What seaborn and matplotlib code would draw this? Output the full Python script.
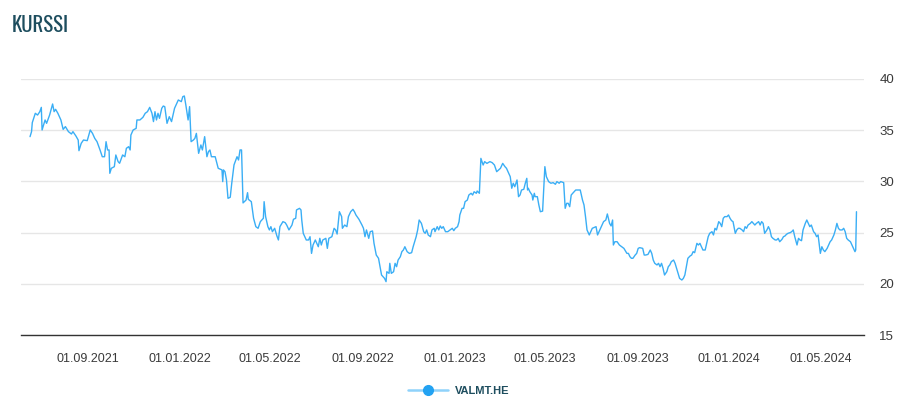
import matplotlib
matplotlib.use("Agg")
import matplotlib.pyplot as plt
import matplotlib.dates as mdates
from matplotlib.lines import Line2D
from matplotlib import font_manager
import seaborn as sns
import pandas as pd

title = "KURSSI"
series_name = "VALMT.HE"

dates = [
    "2021-06-16", "2021-06-18", "2021-06-19", "2021-06-23", "2021-06-26", "2021-06-29", "2021-07-01", "2021-07-02",
    "2021-07-06", "2021-07-08", "2021-07-12", "2021-07-16", "2021-07-18", "2021-07-20", "2021-07-23", "2021-07-27",
    "2021-07-30", "2021-08-02", "2021-08-06", "2021-08-10", "2021-08-12", "2021-08-16", "2021-08-19", "2021-08-20",
    "2021-08-23", "2021-08-26", "2021-08-31", "2021-09-04", "2021-09-07", "2021-09-10", "2021-09-13", "2021-09-17",
    "2021-09-20", "2021-09-23", "2021-09-25", "2021-09-27", "2021-09-29", "2021-09-30", "2021-10-02", "2021-10-06",
    "2021-10-08", "2021-10-11", "2021-10-13", "2021-10-17", "2021-10-20", "2021-10-22", "2021-10-25", "2021-10-27",
    "2021-10-28", "2021-10-31", "2021-11-04", "2021-11-05", "2021-11-09", "2021-11-13", "2021-11-16", "2021-11-19",
    "2021-11-22", "2021-11-25", "2021-11-27", "2021-11-29", "2021-12-01", "2021-12-03", "2021-12-05", "2021-12-08",
    "2021-12-10", "2021-12-12", "2021-12-15", "2021-12-18", "2021-12-21", "2021-12-23", "2021-12-25", "2021-12-28",
    "2021-12-30", "2022-01-03", "2022-01-05", "2022-01-07", "2022-01-09", "2022-01-12", "2022-01-14", "2022-01-16",
    "2022-01-19", "2022-01-21", "2022-01-23", "2022-01-26", "2022-01-29", "2022-01-31", "2022-02-03", "2022-02-06",
    "2022-02-08", "2022-02-10", "2022-02-12", "2022-02-17", "2022-02-21", "2022-02-26", "2022-02-27", "2022-02-28",
    "2022-03-02", "2022-03-04", "2022-03-06", "2022-03-09", "2022-03-11", "2022-03-14", "2022-03-18", "2022-03-20",
    "2022-03-22", "2022-03-24", "2022-03-26", "2022-03-30", "2022-04-01", "2022-04-02", "2022-04-06", "2022-04-09",
    "2022-04-12", "2022-04-15", "2022-04-18", "2022-04-22", "2022-04-23", "2022-04-25", "2022-04-28", "2022-04-30",
    "2022-05-02", "2022-05-04", "2022-05-07", "2022-05-10", "2022-05-12", "2022-05-14", "2022-05-18", "2022-05-21",
    "2022-05-23", "2022-05-26", "2022-05-30", "2022-06-01", "2022-06-04", "2022-06-05", "2022-06-09", "2022-06-11",
    "2022-06-12", "2022-06-14", "2022-06-18", "2022-06-21", "2022-06-23", "2022-06-25", "2022-06-27", "2022-06-30",
    "2022-07-02", "2022-07-04", "2022-07-06", "2022-07-08", "2022-07-10", "2022-07-14", "2022-07-16", "2022-07-18",
    "2022-07-22", "2022-07-25", "2022-07-27", "2022-07-29", "2022-08-01", "2022-08-04", "2022-08-05", "2022-08-08",
    "2022-08-11", "2022-08-13", "2022-08-16", "2022-08-19", "2022-08-21", "2022-08-23", "2022-08-27", "2022-08-31",
    "2022-09-02", "2022-09-04", "2022-09-06", "2022-09-09", "2022-09-11", "2022-09-14", "2022-09-16", "2022-09-19",
    "2022-09-22", "2022-09-24", "2022-09-26", "2022-09-28", "2022-09-30", "2022-10-02", "2022-10-03", "2022-10-06",
    "2022-10-07", "2022-10-09", "2022-10-12", "2022-10-14", "2022-10-16", "2022-10-18", "2022-10-21", "2022-10-23",
    "2022-10-25", "2022-10-27", "2022-10-30", "2022-11-02", "2022-11-05", "2022-11-07", "2022-11-09", "2022-11-11",
    "2022-11-13", "2022-11-15", "2022-11-18", "2022-11-21", "2022-11-23", "2022-11-25", "2022-11-27", "2022-11-30",
    "2022-12-02", "2022-12-05", "2022-12-06", "2022-12-09", "2022-12-11", "2022-12-13", "2022-12-15", "2022-12-17",
    "2022-12-20", "2022-12-23", "2022-12-26", "2022-12-29", "2022-12-31", "2023-01-02", "2023-01-05", "2023-01-07",
    "2023-01-08", "2023-01-11", "2023-01-13", "2023-01-15", "2023-01-18", "2023-01-20", "2023-01-23", "2023-01-25",
    "2023-01-27", "2023-01-30", "2023-01-31", "2023-02-03",
    "2023-02-05", "2023-02-08", "2023-02-10", "2023-02-13", "2023-02-17", "2023-02-20", "2023-02-23", "2023-02-26",
    "2023-03-03", "2023-03-06", "2023-03-09", "2023-03-11", "2023-03-14", "2023-03-16", "2023-03-18", "2023-03-20",
    "2023-03-22", "2023-03-25", "2023-03-27", "2023-03-29", "2023-03-31", "2023-04-03", "2023-04-05", "2023-04-07",
    "2023-04-08", "2023-04-09", "2023-04-11", "2023-04-14", "2023-04-15", "2023-04-17", "2023-04-18", "2023-04-21",
    "2023-04-23", "2023-04-25", "2023-04-28", "2023-05-01", "2023-05-03", "2023-05-06", "2023-05-09", "2023-05-12",
    "2023-05-15", "2023-05-17", "2023-05-20", "2023-05-22", "2023-05-26", "2023-05-28", "2023-05-30", "2023-06-01",
    "2023-06-03", "2023-06-05", "2023-06-07", "2023-06-11", "2023-06-14", "2023-06-17", "2023-06-20", "2023-06-22",
    "2023-06-24", "2023-06-26", "2023-06-29", "2023-07-03", "2023-07-06", "2023-07-08", "2023-07-10", "2023-07-13",
    "2023-07-16", "2023-07-18", "2023-07-21", "2023-07-23", "2023-07-26", "2023-07-28", "2023-07-30", "2023-07-31",
    "2023-08-02", "2023-08-05", "2023-08-08", "2023-08-11", "2023-08-14", "2023-08-18", "2023-08-20", "2023-08-22",
    "2023-08-24", "2023-08-26", "2023-08-29", "2023-08-31", "2023-09-02", "2023-09-04", "2023-09-08", "2023-09-10",
    "2023-09-12", "2023-09-15", "2023-09-18", "2023-09-20", "2023-09-22", "2023-09-24", "2023-09-27", "2023-09-29",
    "2023-10-01", "2023-10-03", "2023-10-05", "2023-10-07", "2023-10-10", "2023-10-12", "2023-10-14", "2023-10-16",
    "2023-10-19", "2023-10-21", "2023-10-23", "2023-10-25", "2023-10-27", "2023-10-30", "2023-11-01", "2023-11-03",
    "2023-11-05", "2023-11-07", "2023-11-10", "2023-11-12", "2023-11-14", "2023-11-16", "2023-11-19", "2023-11-21",
    "2023-11-23", "2023-11-25", "2023-11-27", "2023-11-30", "2023-12-02", "2023-12-04", "2023-12-06", "2023-12-09",
    "2023-12-11", "2023-12-13", "2023-12-15", "2023-12-18", "2023-12-20", "2023-12-22", "2023-12-24", "2023-12-26",
    "2023-12-29", "2023-12-31", "2024-01-02", "2024-01-04", "2024-01-06", "2024-01-09", "2024-01-11", "2024-01-13",
    "2024-01-15", "2024-01-18", "2024-01-20", "2024-01-22", "2024-01-24", "2024-01-26", "2024-01-29", "2024-01-31",
    "2024-02-02", "2024-02-04", "2024-02-06", "2024-02-09", "2024-02-11", "2024-02-13", "2024-02-15", "2024-02-17",
    "2024-02-20", "2024-02-22", "2024-02-24", "2024-02-26", "2024-02-28", "2024-03-02", "2024-03-04", "2024-03-06",
    "2024-03-08", "2024-03-11", "2024-03-13", "2024-03-15", "2024-03-17", "2024-03-19", "2024-03-22", "2024-03-24",
    "2024-03-26", "2024-03-28", "2024-03-31", "2024-04-02", "2024-04-04", "2024-04-06", "2024-04-08", "2024-04-11",
    "2024-04-13", "2024-04-15", "2024-04-17", "2024-04-19", "2024-04-22", "2024-04-24", "2024-04-26", "2024-04-28",
    "2024-05-01", "2024-05-03", "2024-05-05", "2024-05-07", "2024-05-10", "2024-05-12", "2024-05-14", "2024-05-16",
    "2024-05-19", "2024-05-21", "2024-05-23", "2024-05-25", "2024-05-27", "2024-05-30", "2024-06-01", "2024-06-03",
    "2024-06-05", "2024-06-07", "2024-06-10", "2024-06-12", "2024-06-14", "2024-06-16", "2024-06-17", "2024-06-18",
]

prices = [
    34.37, 34.86, 35.74, 36.65, 36.48, 36.81, 37.23, 35.02,
    36.00, 35.67, 36.48, 37.56, 36.81, 37.04, 36.65, 36.00,
    35.08, 35.35, 34.86, 34.63, 34.86, 34.43, 34.04, 33.00,
    33.72, 34.04, 33.98, 35.02, 34.69, 34.20, 33.88, 33.07,
    32.41, 32.41, 33.88, 33.07, 33.07, 30.79, 31.28, 31.44,
    32.58, 31.93, 31.77, 32.58, 32.41, 33.23, 33.39, 33.07,
    34.53, 35.02, 35.18, 36.00, 36.00, 36.26, 36.65, 36.81,
    37.23, 36.65, 35.84, 36.81, 36.00, 36.65, 36.16, 37.14,
    37.36, 37.30, 35.67, 36.32, 35.84, 36.48, 37.14, 37.62,
    37.95, 37.79, 38.28, 38.34, 37.46, 36.00, 37.30, 33.88,
    34.04, 34.20, 34.69, 32.74, 33.56, 33.07, 34.37, 32.41,
    32.90, 33.07, 32.41, 32.41, 31.28, 31.12, 29.98, 31.12,
    30.95, 30.14, 28.35, 28.45, 29.82, 31.61, 32.41, 32.09,
    33.07, 33.07, 27.90, 28.18, 28.90, 28.25, 28.02, 26.40,
    25.58, 25.42, 26.07, 26.40, 28.02, 26.56, 25.58, 25.26,
    25.58, 25.09, 25.42, 24.67, 24.28, 25.58, 26.07, 25.97,
    25.74, 25.26, 25.74, 26.30, 26.40, 27.21, 27.37, 27.21,
    26.23, 24.93, 24.28, 24.28, 24.60, 22.97, 23.79, 24.28,
    23.95, 23.62, 24.44, 23.79, 24.28, 24.44, 23.46, 24.44,
    24.60, 25.42, 25.26, 24.86, 27.04, 26.56, 25.42, 25.74,
    25.58, 26.56, 27.04, 27.27, 27.04, 26.72, 26.30, 25.74,
    25.42, 24.60, 25.26, 24.44, 25.09, 25.16, 23.95, 22.81,
    22.49, 21.67, 20.86, 20.69, 20.53, 20.21, 21.18, 21.02,
    22.00, 21.02, 21.18, 22.00, 21.67, 22.32, 22.65, 23.14,
    23.30, 23.62, 23.14, 22.97, 23.04, 23.62, 24.11, 24.60,
    25.26, 26.23, 25.90, 25.09, 24.93, 25.26, 24.77, 24.60,
    25.26, 25.42, 25.09, 25.58, 25.26, 25.65, 25.42, 25.58,
    25.09, 25.09, 25.26, 25.42, 25.19, 25.42, 25.58, 26.07,
    26.72, 27.37, 27.37, 28.02, 28.18, 28.67, 28.84, 28.67,
    28.99, 28.84, 29.06, 28.84,
    32.25, 31.60, 31.93, 31.76, 31.93, 31.83, 31.60, 30.95,
    31.28, 31.76, 31.44, 31.28, 30.79, 30.46, 29.33, 29.82,
    29.48, 30.14, 28.51, 28.67, 29.16, 29.23, 29.82, 30.30,
    29.16, 29.33, 29.00, 28.67, 28.18, 28.84, 28.51, 28.51,
    27.70, 27.04, 27.10, 31.44, 30.46, 29.98, 29.82, 29.88,
    29.72, 29.98, 29.82, 29.98, 29.88, 27.37, 27.86, 27.86,
    27.53, 28.67, 28.84, 29.16, 29.16, 29.16, 28.18, 27.70,
    26.56, 25.26, 24.77, 25.42, 25.52, 25.58, 24.77, 25.26,
    25.74, 26.07, 26.23, 26.82, 25.90, 25.65, 26.23, 23.79,
    24.11, 24.11, 23.79, 23.62, 23.46, 22.97, 22.97, 22.65,
    22.49, 22.49, 22.81, 22.97, 23.46, 23.53, 23.46, 22.81,
    22.81, 22.87, 23.30, 22.97, 22.32, 22.00, 21.84, 22.00,
    21.67, 22.00, 21.51, 20.86, 21.18, 21.67, 21.84, 22.16,
    22.32, 22.00, 21.51, 21.02, 20.53, 20.37, 20.53, 20.86,
    21.67, 22.49, 22.72, 22.81, 23.14, 23.04, 23.95, 23.79,
    23.95, 23.62, 23.30, 23.30, 23.95, 24.60, 24.93, 25.09,
    24.77, 25.42, 25.26, 26.07, 25.90, 25.58, 26.40, 26.56,
    26.56, 26.72, 26.40, 26.17, 26.07, 24.93, 25.26, 25.42,
    25.42, 25.26, 25.09, 25.58, 25.42, 25.74, 25.90, 26.07,
    25.90, 25.74, 25.90, 26.07, 25.74, 26.07, 25.90, 24.93,
    25.26, 25.58, 25.26, 24.60, 24.44, 24.28, 24.28, 24.44,
    24.11, 24.34, 24.60, 24.67, 24.83, 24.93, 25.00, 25.09,
    25.26, 24.60, 23.79, 24.44, 24.28, 24.21, 25.26, 25.90,
    26.23, 25.90, 25.58, 25.74, 25.09, 24.93, 24.60, 24.77,
    22.97, 23.62, 23.30, 23.14, 23.46, 23.79, 24.11, 24.28,
    24.77, 25.26, 25.90, 25.42, 25.26, 25.26, 25.42, 25.09,
    24.44, 24.28, 24.11, 23.79, 23.46, 23.14, 23.30, 27.04,
]

tick_dates = ["2021-09-01", "2022-01-01", "2022-05-01", "2022-09-01", "2023-01-01",
              "2023-05-01", "2023-09-01", "2024-01-01", "2024-05-01"]
y_ticks = [15, 20, 25, 30, 35, 40]
x_range = ["2021-06-04", "2024-06-28"]

df = pd.DataFrame({"date": pd.to_datetime(dates), "price": prices})

sns.set_style("white")
plt.rcParams["font.family"] = ["Liberation Sans", "DejaVu Sans"]

line_color = "#3aaef5"
text_color = "#3a3a3a"
title_color = "#1d4d5e"

fig = plt.figure(figsize=(9.18, 4.12), dpi=100)
ax = fig.add_axes([21 / 918, 1 - 335 / 412, (864 - 21) / 918, (335 - 79) / 412])

sns.lineplot(data=df, x="date", y="price", ax=ax, color=line_color, linewidth=1.0, legend=False)

ax.set_xlim(pd.Timestamp(x_range[0]), pd.Timestamp(x_range[1]))
ax.set_ylim(y_ticks[0], y_ticks[-1])
ax.set_xlabel("")
ax.set_ylabel("")

ax.yaxis.tick_right()
ax.set_yticks(y_ticks)
ax.set_yticklabels([str(v) for v in y_ticks])
ax.tick_params(axis="y", length=0, pad=11, labelsize=9.5, labelcolor=text_color)
ax.grid(axis="y", color="#e6e6e6", linewidth=1)
ax.set_axisbelow(True)

ax.set_xticks(pd.to_datetime(tick_dates))
ax.xaxis.set_major_formatter(mdates.DateFormatter("%d.%m.%Y"))
ax.tick_params(axis="x", length=7, width=1, color="#333333", direction="out",
               pad=6, labelsize=9, labelcolor=text_color)

for side in ["top", "left", "right"]:
    ax.spines[side].set_visible(False)
ax.spines["bottom"].set_color("#333333")
ax.spines["bottom"].set_linewidth(1)

# pick a narrow font for the title if one is installed
names = {f.name for f in font_manager.fontManager.ttflist}
title_kw = dict(family=["DejaVu Sans"], fontsize=14)
for cand in ["Oswald", "Roboto Condensed", "Open Sans Condensed", "Liberation Sans Narrow",
             "DejaVu Sans Condensed"]:
    if cand in names:
        title_kw = dict(family=[cand, "DejaVu Sans"], fontsize=15)
        break
else:
    condensed = [f for f in font_manager.fontManager.ttflist
                 if f.name == "DejaVu Sans" and str(f.stretch) in ("condensed", "semi-condensed", "75", "87")]
    if condensed:
        title_kw = dict(family=["DejaVu Sans"], fontstretch="condensed", fontsize=14)

fig.text(12 / 918, 1 - 25 / 412, title, ha="left", va="center",
         color=title_color, **title_kw)

handle = Line2D([0], [0], color="#8fd2fb", linewidth=1.8, marker="o", markersize=7,
                markerfacecolor="#22a2f2", markeredgecolor="#22a2f2")
leg = fig.legend([handle], [series_name], loc="center", bbox_to_anchor=(0.5, 1 - 391 / 412),
                 frameon=False, handlelength=3.6, handletextpad=0.6,
                 prop={"size": 8, "weight": "semibold"})
for t in leg.get_texts():
    t.set_color(title_color)

fig.savefig("out.png", dpi=100)
